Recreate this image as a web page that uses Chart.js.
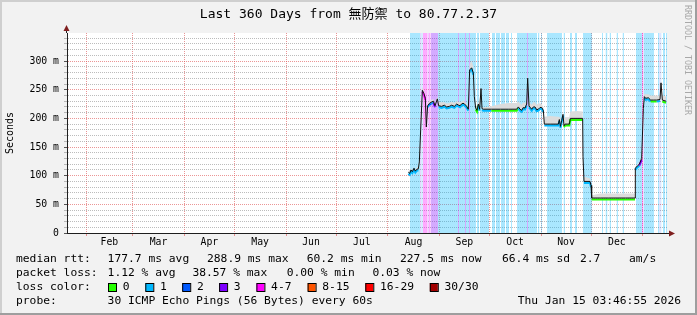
<!DOCTYPE html>
<html>
<head>
<meta charset="utf-8">
<script src="https://cdn.jsdelivr.net/npm/chart.js@4.4.1/dist/chart.umd.min.js"></script>
<style>
  html, body { margin: 0; padding: 0; background: #f2f2f2; }
</style>
</head>
<body>
<canvas id="smoke" width="697" height="315"></canvas>
<script>
// x = days since the start of the 360 day window (Jan 20 2025)
const days = [
  204.8, 205.6, 206.4, 207.2, 208.2, 209.0, 209.8, 210.8, 211.4, 212.2,
  213.2, 214.2, 215.0, 215.6, 216.4, 217.4, 218.4, 219.8, 220.8, 222.2,
  223.0, 224.8, 226.4, 227.8, 229.4, 230.8, 232.4, 233.8, 235.0, 235.8,
  237.0, 238.2, 239.2, 239.8, 240.8, 241.6, 242.8, 243.8, 244.4, 245.2,
  246.0, 246.8, 247.6, 248.4, 249.0, 249.8, 254.6, 260.0, 265.0, 269.8,
  270.8, 271.8, 272.8, 273.8, 274.8, 275.8, 276.4, 277.2, 278.0, 278.8,
  279.8, 280.8, 281.8, 282.8, 283.8, 284.8, 285.8, 286.4, 290.0, 294.8,
  295.4, 296.0, 296.8, 297.6, 298.2, 298.8, 301.4, 302.0, 306.0, 309.4,
  309.6, 310.2, 312.0, 313.8, 314.4, 314.8, 320.0, 325.0, 330.0, 335.0,
  340.8, 341.0, 342.2, 343.4, 344.8, 345.8, 346.4, 347.2, 348.8, 350.2,
  352.0, 353.8, 355.8, 356.4, 357.2, 359.4
];
// median rtt in ms
const medianRtt = [
  106, 104, 110, 107, 113, 108, 111, 112, 124, 180,
  249, 243, 235, 185, 222, 226, 228, 230, 222, 234,
  222, 221, 223, 220, 221, 223, 221, 225, 223, 222,
  226, 226, 223, 221, 216, 285, 288, 279, 238, 218,
  214, 225, 216, 252, 217, 216, 216, 216, 216, 216,
  220, 216, 214, 219, 218, 225, 270, 222, 219, 216,
  220, 220, 215, 216, 219, 219, 214, 190, 190, 190,
  198, 186, 196, 207, 187, 190, 190, 200, 200, 200,
  133, 90, 90, 90, 83, 61, 61, 61, 61, 61,
  61, 113, 117, 120, 130, 217, 238, 235, 236, 232,
  232, 232, 233, 262, 232, 230
];
// upper edge of the smoke
const smokeTop = [
  108, 110, 113, 110, 116, 111, 114, 116, 128, 186,
  255, 248, 240, 190, 226, 230, 232, 234, 226, 238,
  228, 228, 228, 226, 227, 229, 227, 230, 229, 228,
  230, 231, 227, 225, 220, 295, 300, 290, 245, 222,
  220, 230, 222, 256, 220, 219, 221, 225, 227, 227,
  230, 226, 224, 228, 226, 232, 282, 230, 226, 224,
  228, 228, 224, 226, 226, 225, 220, 203, 204, 203,
  203, 200, 203, 210, 200, 202, 202, 212, 213, 212,
  140, 98, 97, 95, 86, 66, 69, 69, 69, 69,
  69, 116, 120, 124, 134, 222, 243, 242, 242, 240,
  240, 240, 240, 266, 240, 238
];
// loss class index of each median segment
const lossClass = [
  1, 1, 1, 1, 1, 1, 1, 1, 3, 4,
  4, 4, 3, 3, 1, 2, 1, 3, 1, 1,
  1, 1, 1, 1, 1, 1, 1, 1, 1, 1,
  1, 1, 1, 1, 1, 1, 1, 1, 1, 0,
  0, 1, 1, 1, 1, 1, 0, 0, 0, 0,
  1, 1, 1, 1, 1, 1, 1, 1, 1, 1,
  1, 1, 1, 1, 1, 1, 0, 1, 1, 1,
  1, 1, 1, 1, 0, 0, 0, 0, 0, 0,
  1, 1, 1, 1, 1, 0, 0, 0, 0, 0,
  0, 1, 1, 3, 4, 1, 1, 1, 1, 0,
  0, 1, 0, 1, 0, 1
];

// loss background bands
const bandStart = [205.8, 212.0, 212.6, 213.4, 216.4, 217.0, 218.2, 222.6, 234.6, 235.2, 238.8, 239.4, 241.2, 241.8, 246.0,
  247.8, 255.0, 257.4, 260.4, 263.4, 266.4, 270.0, 276.0, 276.6, 282.6, 284.4, 288.0, 297.9, 301.8, 304.8, 309.6,
  321.0, 323.1, 325.5, 329.7, 333.3, 341.4, 345.0, 345.9, 354.6, 355.5, 356.1, 357.6, 359.4];
const bandEnd = [212.0, 212.6, 213.4, 216.4, 217.0, 218.2, 222.6, 234.6, 235.2, 238.8, 239.4, 241.2, 241.8, 245.4, 247.2,
  253.2, 256.8, 259.8, 262.8, 265.2, 267.0, 276.0, 276.6, 282.0, 283.5, 285.0, 297.0, 298.8, 303.0, 306.0, 315.0,
  321.6, 324.3, 326.4, 330.6, 334.2, 345.0, 345.9, 352.2, 355.5, 356.1, 356.7, 358.8, 360.0];
const bandLoss = [1, 3, 1, 4, 3, 4, 3, 1, 3, 1, 3, 1, 3, 1, 1,
  1, 1, 1, 1, 1, 1, 1, 3, 1, 1, 1, 1, 1, 1, 1, 1,
  1, 1, 1, 1, 1, 1, 4, 1, 1, 3, 1, 1, 1];

const monthStarts = [11.4, 39.4, 70.4, 100.4, 131.4, 161.4, 192.4, 223.4, 253.4, 284.4, 314.4, 345.4];
const monthNames = ['Feb', 'Mar', 'Apr', 'May', 'Jun', 'Jul', 'Aug', 'Sep', 'Oct', 'Nov', 'Dec'];

const lossLabels = ['0', '1', '2', '3', '4-7', '8-15', '16-29', '30/30'];
const lossColors = ['#26ff00', '#00b8ff', '#0059ff', '#7e00ff', '#ff00ff', '#ff5500', '#ff0000', '#a10000'];

const rttStats = ['177.7 ms avg', '288.9 ms max', '60.2 ms min', '227.5 ms now', '66.4 ms sd', '2.7', 'am/s'];
const lossStats = ['1.12 % avg', '38.57 % max', '0.00 % min', '0.03 % now'];

const yMax = 349;
const mono = "'DejaVu Sans Mono'";
const minorGrid = 'rgba(143,143,143,0.6)';
const majorGrid = 'rgba(222,80,80,0.6)';
const axisColor = '#1f1f1f';
const clear = 'rgba(0,0,0,0)';

const labelDays = monthNames.map((m, i) => (monthStarts[i] + monthStarts[i + 1]) / 2);
const pts = vals => days.map((d, i) => ({ x: d, y: vals[i] }));

// one filled dataset per loss band
const bandSets = bandStart.map((s, i) => ({
  data: [{ x: s, y: yMax }, { x: bandEnd[i], y: yMax }],
  fill: 'origin',
  backgroundColor: lossColors[bandLoss[i]] + '55',
  borderColor: clear,
  borderWidth: 0,
  pointRadius: 0
}));

// loss colour only on the level stretches, steep moves stay black
const lossSegment = c => {
  const i = c.p0DataIndex;
  return Math.abs(medianRtt[i + 1] - medianRtt[i]) < 12 ? lossColors[lossClass[i]] : clear;
};

const rrdFrame = {
  id: 'rrdFrame',
  beforeDraw(chart) {
    const { ctx, chartArea: a, width, height } = chart;
    ctx.save();
    ctx.fillStyle = '#f2f2f2';
    ctx.fillRect(0, 0, width, height);
    ctx.fillStyle = '#fff';
    ctx.fillRect(a.left, a.top, a.right - a.left, a.bottom - a.top);
    ctx.restore();
  },
  beforeDatasetDraw(chart, args) {
    if (args.index === 1) {
      chart.ctx.save();
      chart.ctx.translate(0, 1.5);
    }
  },
  afterDatasetDraw(chart, args) {
    if (args.index === 1) chart.ctx.restore();
  },
  afterDraw(chart) {
    const { ctx, chartArea: a, width, height } = chart;
    ctx.save();
    // axis ends with arrows
    ctx.strokeStyle = axisColor;
    ctx.lineWidth = 1;
    ctx.beginPath();
    ctx.moveTo(a.left - 0.5, a.top);
    ctx.lineTo(a.left - 0.5, a.top - 3);
    ctx.moveTo(a.right, a.bottom + 0.5);
    ctx.lineTo(a.right + 3, a.bottom + 0.5);
    ctx.stroke();
    ctx.fillStyle = '#7f1f1f';
    ctx.beginPath();
    ctx.moveTo(a.left - 0.5, a.top - 8);
    ctx.lineTo(a.left - 3.5, a.top - 2);
    ctx.lineTo(a.left + 2.5, a.top - 2);
    ctx.fill();
    ctx.beginPath();
    ctx.moveTo(a.right + 8, a.bottom + 0.5);
    ctx.lineTo(a.right + 2, a.bottom - 2.5);
    ctx.lineTo(a.right + 2, a.bottom + 3.5);
    ctx.fill();

    // legend
    ctx.fillStyle = '#000';
    ctx.textBaseline = 'middle';
    ctx.textAlign = 'left';
    ctx.font = '11.3px ' + mono;
    ctx.fillText('median rtt:', 16, 259.5);
    [107.6, 207, 306.7, 400, 502, 580, 629].forEach((x, i) => ctx.fillText(rttStats[i], x, 259.5));
    ctx.fillText('packet loss:', 16, 273.5);
    [107.6, 192.4, 286.7, 372.4].forEach((x, i) => ctx.fillText(lossStats[i], x, 273.5));
    ctx.fillText('loss color:', 16, 287.5);
    [108, 145.3, 182.2, 219.1, 256.4, 307.6, 365.3, 429.8].forEach((x, i) => {
      ctx.fillStyle = lossColors[i];
      ctx.fillRect(x, 283, 8, 8);
      ctx.strokeStyle = '#000';
      ctx.strokeRect(x + 0.5, 283.5, 8, 8);
      ctx.fillStyle = '#000';
      ctx.fillText(lossLabels[i], x + 14.7, 287.5);
    });
    ctx.fillText('probe:', 16, 301.5);
    ctx.fillText('30 ICMP Echo Pings (56 Bytes) every 60s', 107.6, 301.5);
    ctx.textAlign = 'right';
    ctx.fillText('Thu Jan 15 03:46:55 2026', 681, 301.5);

    // watermark
    ctx.save();
    ctx.translate(687.5, 5);
    ctx.rotate(Math.PI / 2);
    ctx.textAlign = 'left';
    ctx.fillStyle = '#a8a8a8';
    ctx.font = '8.3px ' + mono;
    ctx.fillText('RRDTOOL / TOBI OETIKER', 0, 0);
    ctx.restore();

    // 3d frame
    ctx.fillStyle = '#cfcfcf';
    ctx.fillRect(0, 0, width, 2);
    ctx.fillRect(0, 0, 2, height);
    ctx.fillStyle = '#9e9e9e';
    ctx.fillRect(0, height - 2, width, 2);
    ctx.fillRect(width - 2, 0, 2, height);
    ctx.restore();
  }
};

new Chart(document.getElementById('smoke'), {
  type: 'line',
  data: {
    datasets: [
      { data: pts(medianRtt), borderColor: '#111', borderWidth: 1, pointRadius: 0, fill: false },
      {
        data: pts(medianRtt), borderColor: lossColors[1], borderWidth: 2, pointRadius: 0, fill: false,
        segment: { borderColor: lossSegment }
      },
      { data: pts(smokeTop), fill: '-2', backgroundColor: '#dcdcdc', borderColor: clear, borderWidth: 0, pointRadius: 0 },
      ...bandSets
    ]
  },
  options: {
    responsive: false,
    animation: false,
    events: [],
    layout: { padding: 0 },
    plugins: {
      legend: { display: false },
      tooltip: { enabled: false },
      title: {
        display: true,
        text: 'Last 360 Days from 無防禦 to 80.77.2.37',
        color: '#000',
        font: { family: mono + ", 'Noto Sans CJK TC'", size: 13, weight: 'normal' },
        padding: { top: 7, bottom: 10.4 }
      }
    },
    scales: {
      x: {
        type: 'linear',
        min: 0,
        max: 360,
        afterBuildTicks: s => {
          s.ticks = monthStarts.concat(labelDays).sort((p, q) => p - q).map(v => ({ value: v }));
        },
        afterFit: s => { s.height = 82; },
        ticks: {
          autoSkip: false,
          maxRotation: 0,
          padding: 1,
          color: '#000',
          font: { family: mono, size: 9.8 },
          callback: v => {
            const i = labelDays.indexOf(v);
            return i < 0 ? '' : monthNames[i];
          }
        },
        grid: {
          lineWidth: 1,
          tickLength: 3,
          color: c => c.tick && monthStarts.includes(c.tick.value) ? majorGrid : clear,
          tickColor: c => c.tick && monthStarts.includes(c.tick.value) ? majorGrid : clear
        },
        border: { z: 2, color: axisColor, width: 1, dash: [1, 1] }
      },
      y: {
        min: 0,
        max: yMax,
        afterBuildTicks: s => {
          s.ticks = [];
          for (let v = 0; v < yMax; v += 10) s.ticks.push({ value: v });
        },
        afterFit: s => { s.width = 67; },
        ticks: {
          autoSkip: false,
          padding: 5,
          color: '#000',
          font: { family: mono, size: 9.8 },
          callback: v => v % 50 ? '' : (v ? v + ' m' : '0')
        },
        grid: {
          lineWidth: 1,
          tickLength: 3,
          color: c => c.tick && c.tick.value % 50 ? minorGrid : majorGrid,
          tickColor: c => c.tick && c.tick.value % 50 ? minorGrid : '#555'
        },
        border: { z: 2, color: axisColor, width: 1, dash: [1, 1] },
        title: {
          display: true,
          text: 'Seconds',
          color: '#000',
          font: { family: mono, size: 10 },
          padding: { top: 4, bottom: 0 }
        }
      },
      yr: {
        position: 'right',
        afterFit: s => { s.width = 30; },
        ticks: { display: false },
        grid: { display: false, drawTicks: false },
        border: { display: false }
      }
    }
  },
  plugins: [rrdFrame]
});
</script>
</body>
</html>
